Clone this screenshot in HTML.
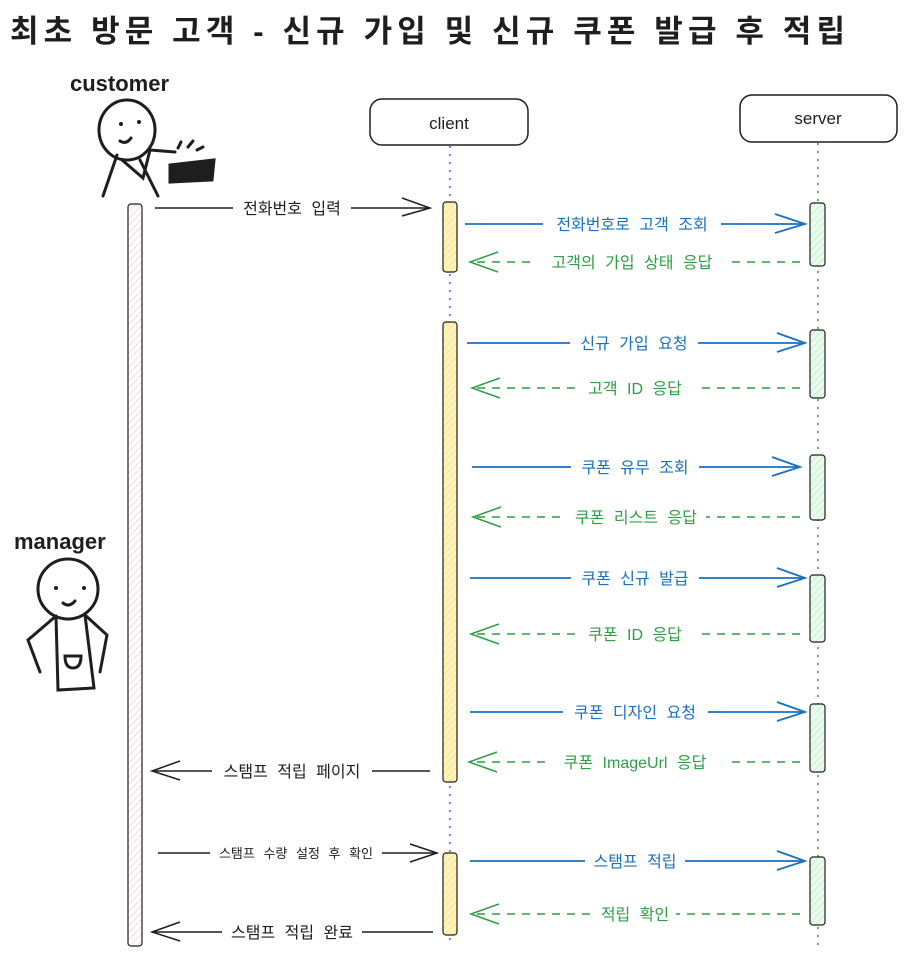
<!DOCTYPE html>
<html><head><meta charset="utf-8"><style>
body{margin:0;background:#fff;width:906px;height:956px;overflow:hidden}
svg text{font-family:"Liberation Sans","Noto Sans CJK KR",sans-serif}
.lb text{word-spacing:5px}
</style></head><body>
<svg width="906" height="956" viewBox="0 0 906 956" xmlns="http://www.w3.org/2000/svg">
<defs>
<pattern id="hp" width="5" height="5" patternUnits="userSpaceOnUse" patternTransform="rotate(45)"><rect width="5" height="5" fill="#fff"/><line x1="0" y1="0" x2="0" y2="5" stroke="#ffc9c9" stroke-width="1.5"/></pattern>
<pattern id="hy" width="5" height="5" patternUnits="userSpaceOnUse" patternTransform="rotate(45)"><rect width="5" height="5" fill="#fff3bf"/><line x1="0" y1="0" x2="0" y2="5" stroke="#ffe066" stroke-width="1.5"/></pattern>
<pattern id="hg" width="5" height="5" patternUnits="userSpaceOnUse" patternTransform="rotate(45)"><rect width="5" height="5" fill="#ebfbee"/><line x1="0" y1="0" x2="0" y2="5" stroke="#b2f2bb" stroke-width="1.5"/></pattern>
</defs>
<text x="10" y="42" font-size="31" font-weight="bold" fill="#1e1e1e" textLength="835" lengthAdjust="spacing">최초 방문 고객 - 신규 가입 및 신규 쿠폰 발급 후 적립</text>

<line x1="450" y1="146" x2="450" y2="946" stroke="#1971c2" stroke-width="1.5" stroke-dasharray="2 6"/>
<line x1="818" y1="143" x2="818" y2="946" stroke="#2f9e44" stroke-width="1.5" stroke-dasharray="2 6"/>

<rect x="370" y="99" width="158" height="46" rx="12" fill="#fff" stroke="#1e1e1e" stroke-width="1.5"/>
<text x="449" y="129" font-size="17" text-anchor="middle" fill="#1e1e1e">client</text>
<rect x="740" y="95" width="157" height="47" rx="12" fill="#fff" stroke="#1e1e1e" stroke-width="1.5"/>
<text x="818" y="124" font-size="17" text-anchor="middle" fill="#1e1e1e">server</text>

<text x="70" y="91" font-size="22" font-weight="bold" fill="#1e1e1e">customer</text>
<g fill="none" stroke="#1e1e1e" stroke-width="3" stroke-linecap="round">
<ellipse cx="127" cy="130" rx="28" ry="30"/>
<path d="M120 141 q6 4 11 -3"/>
<path d="M117 155 L103 196 M140 160 L158 196 M122 160 L143 178 L150 150"/>
<path d="M150 150 L175 152"/>
<path d="M170 165 L214 160 L212 180 L170 182 Z" fill="#1e1e1e"/>
<path d="M178 148 l3 -6 M188 147 l5 -6 M197 150 l6 -3"/>
</g>
<circle cx="121" cy="124" r="2" fill="#1e1e1e"/><circle cx="139" cy="122" r="2" fill="#1e1e1e"/>

<text x="14" y="549" font-size="22" font-weight="bold" fill="#1e1e1e">manager</text>
<g fill="none" stroke="#1e1e1e" stroke-width="3" stroke-linecap="round">
<ellipse cx="68" cy="589" rx="30" ry="30"/>
<path d="M63 603 q6 5 12 -2"/>
<path d="M56 616 L58 690 L94 688 L85 615"/>
<path d="M56 616 L28 640 L40 672 M85 615 L107 635 L100 672"/>
<path d="M65 656 h16 q0 12 -8 12 q-8 0 -8 -12 Z"/>
</g>
<circle cx="56" cy="588" r="2" fill="#1e1e1e"/><circle cx="84" cy="588" r="2" fill="#1e1e1e"/>

<rect x="128" y="204" width="14" height="742" rx="3" fill="url(#hp)" stroke="#1e1e1e" stroke-width="1.2"/>
<g fill="url(#hy)" stroke="#1e1e1e" stroke-width="1.2">
<rect x="443" y="202" width="14" height="70" rx="3"/>
<rect x="443" y="322" width="14" height="460" rx="3"/>
<rect x="443" y="853" width="14" height="82" rx="3"/>
</g>
<g fill="url(#hg)" stroke="#1e1e1e" stroke-width="1.2">
<rect x="810" y="203" width="15" height="63" rx="3"/>
<rect x="810" y="330" width="15" height="68" rx="3"/>
<rect x="810" y="455" width="15" height="65" rx="3"/>
<rect x="810" y="575" width="15" height="67" rx="3"/>
<rect x="810" y="704" width="15" height="68" rx="3"/>
<rect x="810" y="857" width="15" height="68" rx="3"/>
</g>

<g font-size="16" text-anchor="middle" class="lb">
<g stroke="#1e1e1e" stroke-width="1.5" fill="none">
<line x1="155" y1="208" x2="430" y2="208"/><path d="M402 198 L430 208 L402 216"/>
<line x1="152" y1="771" x2="430" y2="771"/><path d="M180 761 L152 771 L180 780"/>
<line x1="158" y1="853" x2="437" y2="853"/><path d="M410 844 L437 853 L410 862"/>
<line x1="152" y1="932" x2="433" y2="932"/><path d="M180 922 L152 932 L180 941"/>
</g>
<g fill="#1e1e1e">
<rect x="233" y="198" width="118" height="20" fill="#fff"/><text x="292" y="214">전화번호 입력</text>
<rect x="212" y="761" width="160" height="20" fill="#fff"/><text x="292" y="777">스탬프 적립 페이지</text>
<rect x="210" y="845" width="172" height="16" fill="#fff"/><text x="296" y="858" font-size="13">스탬프 수량 설정 후 확인</text>
<rect x="222" y="922" width="140" height="20" fill="#fff"/><text x="292" y="938">스탬프 적립 완료</text>
</g>

<g stroke="#1971c2" stroke-width="1.8" fill="none">
<line x1="465" y1="224" x2="805" y2="224"/><path d="M775 214 L805 224 L775 233"/>
<line x1="467" y1="343" x2="805" y2="343"/><path d="M777 333 L805 343 L777 352"/>
<line x1="472" y1="467" x2="800" y2="467"/><path d="M772 457 L800 467 L772 476"/>
<line x1="470" y1="578" x2="805" y2="578"/><path d="M777 568 L805 578 L777 587"/>
<line x1="470" y1="712" x2="805" y2="712"/><path d="M777 702 L805 712 L777 721"/>
<line x1="470" y1="861" x2="805" y2="861"/><path d="M777 851 L805 861 L777 870"/>
</g>
<g fill="#1971c2">
<rect x="543" y="214" width="178" height="20" fill="#fff"/><text x="632" y="230">전화번호로 고객 조회</text>
<rect x="570" y="333" width="128" height="20" fill="#fff"/><text x="634" y="349">신규 가입 요청</text>
<rect x="571" y="457" width="128" height="20" fill="#fff"/><text x="635" y="473">쿠폰 유무 조회</text>
<rect x="571" y="568" width="128" height="20" fill="#fff"/><text x="635" y="584">쿠폰 신규 발급</text>
<rect x="563" y="702" width="145" height="20" fill="#fff"/><text x="635" y="718">쿠폰 디자인 요청</text>
<rect x="585" y="851" width="100" height="20" fill="#fff"/><text x="635" y="867">스탬프 적립</text>
</g>

<g stroke="#2f9e44" stroke-width="1.5" fill="none">
<line x1="800" y1="262" x2="470" y2="262" stroke-dasharray="8 7"/><path d="M498 252 L470 262 L498 272"/>
<line x1="800" y1="388" x2="472" y2="388" stroke-dasharray="8 7"/><path d="M500 378 L472 388 L500 398"/>
<line x1="800" y1="517" x2="473" y2="517" stroke-dasharray="8 7"/><path d="M501 507 L473 517 L501 527"/>
<line x1="800" y1="634" x2="471" y2="634" stroke-dasharray="8 7"/><path d="M499 624 L471 634 L499 644"/>
<line x1="800" y1="762" x2="469" y2="762" stroke-dasharray="8 7"/><path d="M497 752 L469 762 L497 772"/>
<line x1="800" y1="914" x2="471" y2="914" stroke-dasharray="8 7"/><path d="M499 904 L471 914 L499 924"/>
</g>
<g fill="#2f9e44">
<rect x="537" y="252" width="190" height="20" fill="#fff"/><text x="632" y="268">고객의 가입 상태 응답</text>
<rect x="575" y="378" width="120" height="20" fill="#fff"/><text x="635" y="394">고객 ID 응답</text>
<rect x="566" y="507" width="140" height="20" fill="#fff"/><text x="636" y="523">쿠폰 리스트 응답</text>
<rect x="575" y="624" width="120" height="20" fill="#fff"/><text x="635" y="640">쿠폰 ID 응답</text>
<rect x="545" y="752" width="180" height="20" fill="#fff"/><text x="635" y="768">쿠폰 ImageUrl 응답</text>
<rect x="594" y="904" width="82" height="20" fill="#fff"/><text x="635" y="920">적립 확인</text>
</g>
</g>
</svg>
</body></html>
